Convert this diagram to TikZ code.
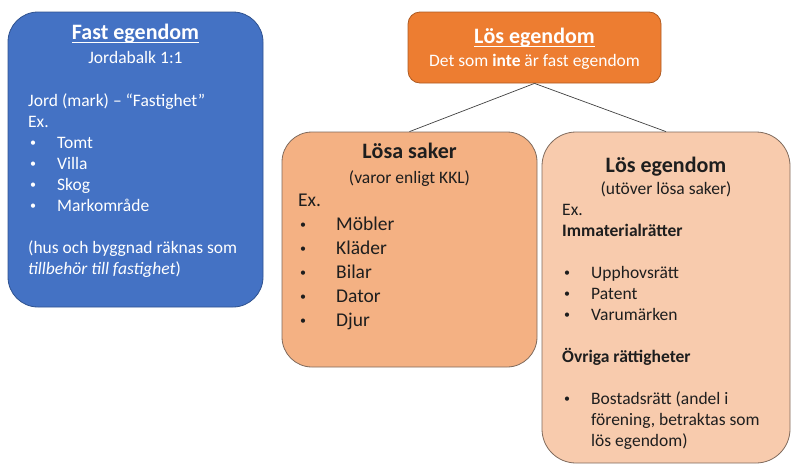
\documentclass[tikz,border=0pt]{standalone}
\usepackage{fontspec}
\setmainfont{Carlito}
\newsavebox\ulbox
\newcommand\myul[1]{\sbox\ulbox{#1}\rlap{\rule[-4pt]{\wd\ulbox}{1.3pt}}\usebox\ulbox}
\newcommand\mybul[1]{\makebox[#1][l]{\kern2pt\raisebox{1.8pt}{\fontsize{12}{12}\selectfont•}}}
\definecolor{blueF}{HTML}{4472C4}
\definecolor{blueD}{HTML}{2F528F}
\definecolor{orgF}{HTML}{ED7D31}
\definecolor{orgD}{HTML}{AE5A21}
\definecolor{lightA}{HTML}{F4B183}
\definecolor{lightB}{HTML}{F8CBAD}
\definecolor{edgeG}{HTML}{7F6A5C}
\definecolor{ink}{HTML}{1E1E1E}
\begin{document}
\begin{tikzpicture}[x=1pt,y=-1pt,
  panel/.style={draw, line width=0.8pt, inner sep=0pt},
  ttl/.style={inner sep=0pt, anchor=base, font=\fontsize{22}{26}\selectfont\bfseries},
  ctr/.style={inner sep=0pt, anchor=base, font=\fontsize{17.5}{21}\selectfont},
  lft/.style={inner sep=0pt, anchor=base west, font=\fontsize{17.5}{21}\selectfont},
  big/.style={inner sep=0pt, anchor=base west, font=\fontsize{19.5}{24}\selectfont},
  conn/.style={draw=black!75, line width=0.7pt}]
\useasboundingbox (0,0) rectangle (791,466);

% Fast egendom
\node[panel, fill=blueF, draw=blueD, rounded corners=30pt, minimum width=255pt, minimum height=295pt] (fast) at (135.5,159.5) {};
\node[ttl, text=white] (fastT) at (135.5,39) {\myul{Fast egendom}};
\node[ctr, text=white] (fastS) at (135.5,63) {Jordabalk 1:1};
\node[lft, text=white] (f1) at (28,106) {Jord (mark) – “Fastighet”};
\node[lft, text=white] (f2) at (28,127) {Ex.};
\node[lft, text=white] (f3) at (28,148) {\mybul{29pt}Tomt};
\node[lft, text=white] (f4) at (28,169) {\mybul{29pt}Villa};
\node[lft, text=white] (f5) at (28,190) {\mybul{29pt}Skog};
\node[lft, text=white] (f6) at (28,211) {\mybul{29pt}Markområde};
\node[lft, text=white] (f7) at (28,253) {(hus och byggnad räknas som};
\node[lft, text=white] (f8) at (28,274) {\textit{tillbehör till fastighet})};

% Lös egendom top
\node[panel, fill=orgF, draw=orgD, rounded corners=12pt, minimum width=253pt, minimum height=71pt] (los) at (534.5,47.5) {};
\node[ttl, text=white] (losT) at (534.5,43) {\myul{Lös egendom}};
\node[ctr, text=white] (losS) at (534.5,66) {Det som \textbf{inte} är fast egendom};

% Lösa saker
\node[panel, fill=lightA, draw=edgeG, rounded corners=30pt, minimum width=255pt, minimum height=235pt] (losa) at (409.5,249.5) {};
\node[ttl, text=ink] (losaT) at (409.5,158) {Lösa saker};
\node[ctr, text=ink] (losaS) at (409.5,183) {(varor enligt KKL)};
\node[big, text=ink] (l1) at (298,206) {Ex.};
\node[big, text=ink] (l2) at (298,230) {\mybul{38pt}Möbler};
\node[big, text=ink] (l3) at (298,254) {\mybul{38pt}Kläder};
\node[big, text=ink] (l4) at (298,278) {\mybul{38pt}Bilar};
\node[big, text=ink] (l5) at (298,302) {\mybul{38pt}Dator};
\node[big, text=ink] (l6) at (298,326) {\mybul{38pt}Djur};

% Lös egendom (utöver)
\node[panel, fill=lightB, draw=edgeG, rounded corners=34pt, minimum width=248pt, minimum height=331pt] (losE) at (666,297.5) {};
\node[ttl, text=ink] (losET) at (666,172) {Lös egendom};
\node[ctr, text=ink] (losES) at (666,194) {(utöver lösa saker)};
\node[lft, text=ink] (r1) at (562,215) {Ex.};
\node[lft, text=ink] (r2) at (562,236) {\textbf{Immaterialrätter}};
\node[lft, text=ink] (r3) at (562,278) {\mybul{29pt}Upphovsrätt};
\node[lft, text=ink] (r4) at (562,299) {\mybul{29pt}Patent};
\node[lft, text=ink] (r5) at (562,320) {\mybul{29pt}Varumärken};
\node[lft, text=ink] (r6) at (562,362) {\textbf{Övriga rättigheter}};
\node[lft, text=ink] (r7) at (562,404) {\mybul{29pt}Bostadsrätt (andel i};
\node[lft, text=ink] (r8) at (591,425) {förening, betraktas som};
\node[lft, text=ink] (r9) at (591,446) {lös egendom)};

% connectors
\draw[conn] (los.south) -- (losa.north);
\draw[conn] (los.south) -- (losE.north);
\end{tikzpicture}
\end{document}
